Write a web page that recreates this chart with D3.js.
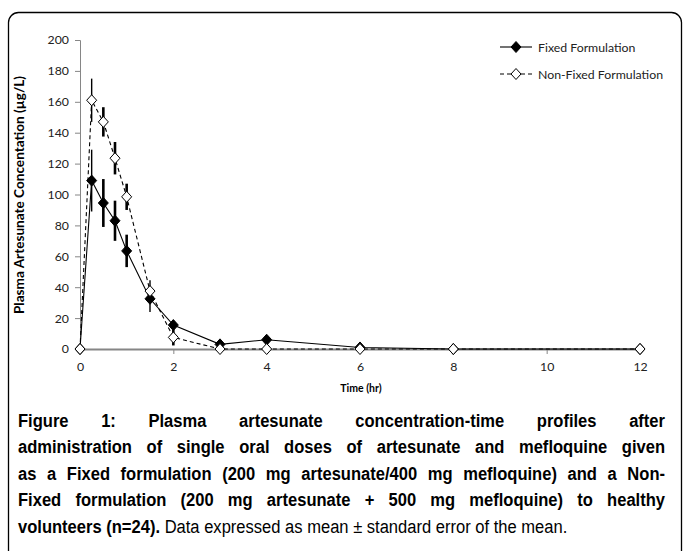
<!DOCTYPE html>
<html><head><meta charset="utf-8">
<script src="https://cdn.jsdelivr.net/npm/d3@7"></script>
<style>
html,body{margin:0;padding:0;background:#fff;}
svg{display:block;}
</style></head>
<body>
<svg id="chart" width="683" height="551"></svg>
<script>
// ---- data ----
const times = [0, 0.25, 0.5, 0.75, 1, 1.5, 2, 3, 4, 6, 8, 12];
const fixedMean = [0, 109, 94.5, 83, 63.5, 32.5, 15.5, 3, 6, 1, 0, 0];
const fixedSE = [0, 20, 15.5, 13, 10.5, 8.5, 2, 0, 0, 0, 0, 0];
const nonFixedMean = [0, 161, 147, 123.5, 98.5, 37.5, 7.5, 0, 0, 0, 0, 0];
const nonFixedSE = [0, 14, 9.5, 10.5, 8.5, 7, 5.2, 0, 0, 0, 0, 0];
const yTicks = [0, 20, 40, 60, 80, 100, 120, 140, 160, 180, 200];
const xTicks = [0, 2, 4, 6, 8, 10, 12];
const seriesNames = ["Fixed Formulation", "Non-Fixed Formulation"];
const yTitle = "Plasma Artesunate Concentation (\u00b5g/L)";
const xTitle = "Time (hr)";
const captionLines = [
  "Figure 1: Plasma artesunate concentration-time profiles after",
  "administration of single oral doses of artesunate and mefloquine given",
  "as a Fixed formulation (200 mg artesunate/400 mg mefloquine) and a Non-",
  "Fixed formulation (200 mg artesunate + 500 mg mefloquine) to healthy"
];
const captionLastBold = "volunteers (n=24).";
const captionLastNormal = " Data expressed as mean \u00b1 standard error of the mean.";

// ---- drawing ----
const svg = d3.select("#chart");
const chartFont = "Lato, 'Open Sans', sans-serif";
const capFont = "'Liberation Sans', Arial, sans-serif";

// frame
svg.append("rect").attr("x", 8.5).attr("y", 12.5).attr("width", 673).attr("height", 560)
  .attr("rx", 10).attr("fill", "none").attr("stroke", "#000").attr("stroke-width", 1.3);

const x = d3.scaleLinear().domain([0, 12]).range([80, 640]);
const y = d3.scaleLinear().domain([0, 200]).range([349, 40]);

const axisColor = "#868686";
const tickFs = 12.3;
// y axis
const gy = svg.append("g").attr("transform", "translate(80,0)")
  .call(d3.axisLeft(y).tickValues(yTicks).tickSize(5).tickPadding(6).tickFormat(d3.format("d")));
gy.select(".domain").attr("stroke", axisColor);
gy.selectAll(".tick line").attr("stroke", axisColor);
gy.selectAll(".tick text").attr("font-family", chartFont).attr("font-size", tickFs).attr("fill", "#222");

// x axis
const gx = svg.append("g").attr("transform", "translate(0,349)")
  .call(d3.axisBottom(x).tickValues(xTicks).tickSize(5).tickPadding(8).tickSizeOuter(0));
gx.select(".domain").attr("stroke", axisColor).attr("stroke-width", 2);
gx.selectAll(".tick line").attr("stroke", axisColor);
gx.selectAll(".tick text").attr("font-family", chartFont).attr("font-size", tickFs).attr("fill", "#222");

// titles
svg.append("text").attr("x", 361).attr("y", 392).attr("text-anchor", "middle")
  .attr("font-family", chartFont).attr("font-size", 10.5).attr("font-weight", "bold").text(xTitle);
svg.append("text").attr("transform", "translate(24,195) rotate(-90)").attr("text-anchor", "middle")
  .attr("font-family", chartFont).attr("font-size", 13.6).attr("font-weight", "bold").text(yTitle);

const fixedData = times.map((t, i) => ({t, v: fixedMean[i], e: fixedSE[i], i}));
const nonData = times.map((t, i) => ({t, v: nonFixedMean[i], e: nonFixedSE[i], i}));

const line = d3.line().x(d => x(d.t)).y(d => y(d.v));
const diamond = "M0,-5.5L5,0L0,5.5L-5,0Z";
const thinFixed = new Set([1, 5]);
const thinNon = new Set([1, 5]);

function drawSeries(data, dashed, thinSet) {
  const g = svg.append("g");
  g.append("path").datum(data).attr("d", line).attr("fill", "none")
    .attr("stroke", "#000").attr("stroke-width", 1.1)
    .attr("stroke-dasharray", dashed ? "4,3" : null);
  g.selectAll("line.err").data(data.filter(d => d.e > 0)).enter().append("line")
    .attr("x1", d => x(d.t)).attr("x2", d => x(d.t))
    .attr("y1", d => y(d.v + d.e)).attr("y2", d => y(d.v - d.e))
    .attr("stroke", "#000").attr("stroke-width", d => thinSet.has(d.i) ? 1.4 : 2.6);
  return g;
}
function drawMarkers(g, data, fill) {
  g.selectAll("path.m").data(data).enter().append("path").attr("class", "m")
    .attr("d", diamond).attr("transform", d => `translate(${x(d.t)},${y(d.v)})`)
    .attr("fill", fill).attr("stroke", "#000").attr("stroke-width", 1);
}
const gF = drawSeries(fixedData, false, thinFixed);
const gN = drawSeries(nonData, true, thinNon);
drawMarkers(gF, fixedData, "#000");
drawMarkers(gN, nonData, "#fff");

// legend
const leg = svg.append("g");
const legItems = [{name: seriesNames[0], dashed: false, fill: "#000", yy: 47},
                  {name: seriesNames[1], dashed: true, fill: "#fff", yy: 74}];
legItems.forEach(it => {
  leg.append("line").attr("x1", 500).attr("x2", 532).attr("y1", it.yy).attr("y2", it.yy)
    .attr("stroke", "#000").attr("stroke-width", 1.1).attr("stroke-dasharray", it.dashed ? "4,3" : null);
  leg.append("path").attr("d", diamond).attr("transform", `translate(516,${it.yy})`)
    .attr("fill", it.fill).attr("stroke", "#000");
  leg.append("text").attr("x", 538).attr("y", it.yy + 4.5).attr("font-family", chartFont)
    .attr("font-size", tickFs).attr("fill", "#222").text(it.name);
});

// caption (justified, slightly condensed)
const capLeft = 18, capRight = 665, capFs = 17.6, sx = 0.94;
const baselines = [427, 453, 480, 506, 533];
const cap = svg.append("g").attr("transform", `scale(${sx},1)`);
captionLines.forEach((ln, li) => {
  const words = ln.split(" ");
  const tmp = words.map(w => cap.append("text").attr("font-family", capFont).attr("font-size", capFs)
    .attr("font-weight", "bold").attr("y", baselines[li]).text(w));
  const widths = tmp.map(t => t.node().getComputedTextLength());
  const total = d3.sum(widths);
  const gap = ((capRight - capLeft) / sx - total) / (words.length - 1);
  let cx = capLeft / sx;
  tmp.forEach((t, k) => { t.attr("x", cx); cx += widths[k] + gap; });
});
const last = cap.append("text").attr("x", capLeft / sx).attr("y", baselines[4])
  .attr("font-family", capFont).attr("font-size", capFs);
last.append("tspan").attr("font-weight", "bold").text(captionLastBold);
last.append("tspan").text(captionLastNormal);
</script>
</body></html>
